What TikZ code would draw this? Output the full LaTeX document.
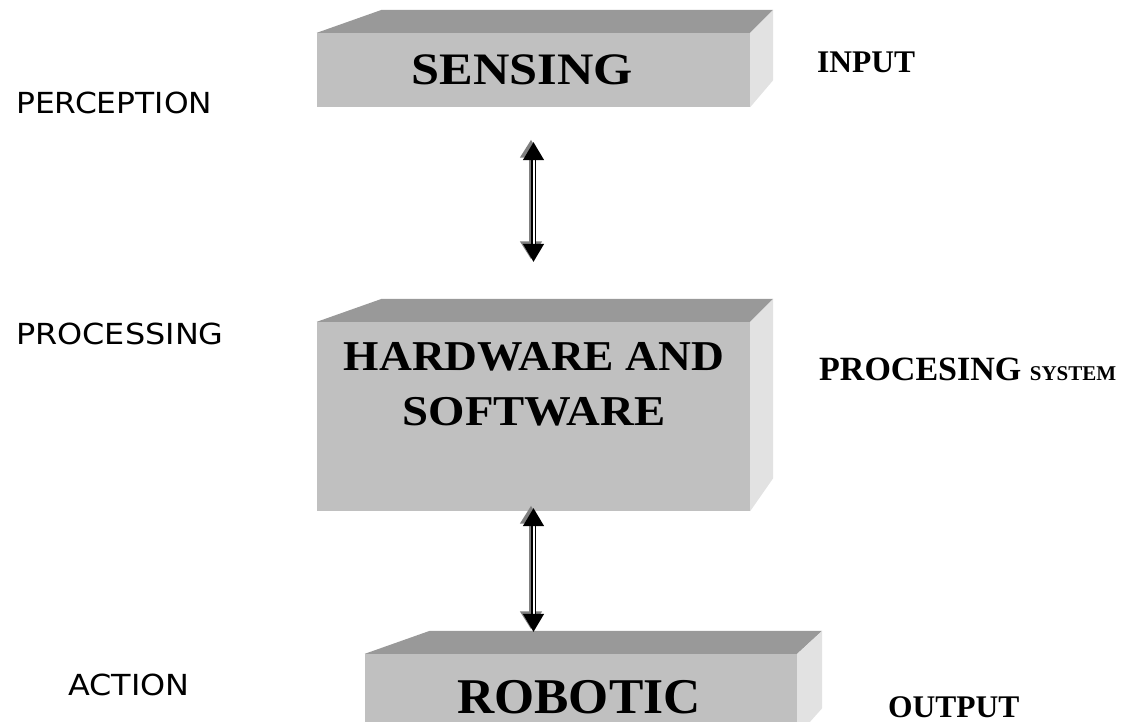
\documentclass[tikz,border=0pt]{standalone}
\usepackage{fontspec}
\setmainfont{Liberation Serif}
\newfontfamily\verd{DejaVu Sans}
\usetikzlibrary{arrows.meta,calc}
\definecolor{frontc}{HTML}{C0C0C0}
\definecolor{topc}{HTML}{999999}
\definecolor{sidec}{HTML}{E2E2E2}
\definecolor{shadowc}{HTML}{808080}
\tikzset{
  front/.style={fill=frontc, draw=none, inner sep=0pt},
  topface/.style={fill=topc, draw=none},
  sideface/.style={fill=sidec, draw=none},
  boxtext/.style={anchor=base, inner sep=0pt, font=\bfseries},
  lefttext/.style={anchor=base west, inner sep=0pt, font=\verd\fontsize{29}{34}\selectfont},
  righttext/.style={anchor=base west, inner sep=0pt, font=\bfseries},
  dblarrow/.style={line width=1.5pt, draw=black, double=white, double distance=2pt,
    {Triangle[length=18pt,width=21pt]}-{Triangle[length=18pt,width=21pt]}},
  shadowarrow/.style={line width=5pt, draw=shadowc,
    {Triangle[length=18pt,width=21pt]}-{Triangle[length=18pt,width=21pt]}}
}
\begin{document}
\begin{tikzpicture}[x=1pt,y=-1pt]
\useasboundingbox (0,0) rectangle (1135,722);
\clip (0,0) rectangle (1135,722);

% SENSING box
\node[front, minimum width=433pt, minimum height=74pt] (sensing) at (533.5,70) {};
\fill[topface] (sensing.north west) -- ++(65,-23) -- ($(sensing.north east)+(23,-23)$) -- (sensing.north east) -- cycle;
\fill[sideface] (sensing.north east) -- ++(23,-23) -- ($(sensing.south east)+(23,-27)$) -- (sensing.south east) -- cycle;
\node[boxtext] (sensingtxt) at (522.5,85) {\fontsize{45}{50}\selectfont\scalebox{1.12}[1]{SENSING}};

% HARDWARE box
\node[front, minimum width=433pt, minimum height=189pt] (hw) at (533.5,416.5) {};
\fill[topface] (hw.north west) -- ++(65,-23) -- ($(hw.north east)+(23,-23)$) -- (hw.north east) -- cycle;
\fill[sideface] (hw.north east) -- ++(23,-23) -- ($(hw.south east)+(23,-33)$) -- (hw.south east) -- cycle;
\node[boxtext] (hwtxt1) at (534,370) {\fontsize{42.5}{50}\selectfont\scalebox{1.07}[1]{HARDWARE AND}};
\node[boxtext] (hwtxt2) at (534,425) {\fontsize{42.5}{50}\selectfont\scalebox{1.1}[1]{SOFTWARE}};

% ROBOTIC box
\node[front, minimum width=432pt, minimum height=82pt] (robotic) at (581,695) {};
\fill[topface] (robotic.north west) -- ++(65,-23) -- ($(robotic.north east)+(25,-23)$) -- (robotic.north east) -- cycle;
\fill[sideface] (robotic.north east) -- ++(25,-23) -- ($(robotic.south east)+(25,-28)$) -- (robotic.south east) -- cycle;
\node[boxtext] (robtxt) at (579,713) {\fontsize{50}{56}\selectfont\scalebox{1.03}[1]{ROBOTIC}};

% arrows
\draw[shadowarrow, shorten <=35pt, shorten >=60pt, transform canvas={xshift=-2.5pt,yshift=2.5pt}] (sensing.south) -- (hw.north);
\draw[dblarrow, shorten <=35pt, shorten >=60pt] (sensing.south) -- (hw.north);
\draw[shadowarrow, shorten <=-3pt, shorten >=22pt, transform canvas={xshift=-2.5pt,yshift=2.5pt}] (hw.south) -- (hw.south |- robotic.north);
\draw[dblarrow, shorten <=-3pt, shorten >=22pt] (hw.south) -- (hw.south |- robotic.north);

% left labels
\node[lefttext] (perc) at (16,114) {\scalebox{1.08}[1]{PERCEPTION}};
\node[lefttext] (proc) at (16,344) {\scalebox{1.1}[1]{PROCESSING}};
\node[lefttext] (act) at (68,695) {\scalebox{1.1}[1]{ACTION}};

% right labels
\node[righttext] (inp) at (817,73) {\fontsize{31.5}{36}\selectfont INPUT};
\node[righttext] (psys) at (819,380) {\fontsize{34}{40}\selectfont PROCESING {\fontsize{21}{24}\selectfont SYSTEM}};
\node[righttext] (outp) at (888,717) {\fontsize{31.5}{36}\selectfont OUTPUT};
\end{tikzpicture}
\end{document}
